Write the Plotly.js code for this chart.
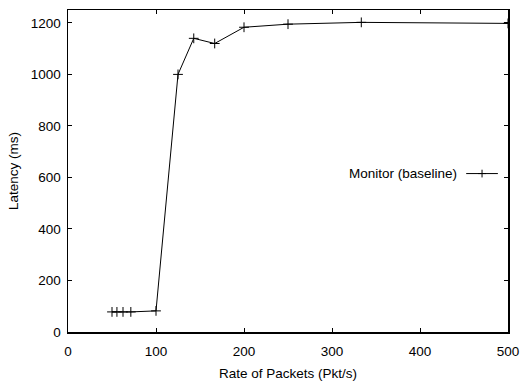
<!DOCTYPE html>
<html>
<head>
<meta charset="utf-8">
<script src="https://cdn.plot.ly/plotly-3.0.1.min.js"></script>
<style>html,body{margin:0;padding:0;background:#fff;}#chart{width:528px;height:381px;}</style>
</head>
<body>
<div id="chart"></div>
<script>
const seriesName = "Monitor (baseline)";
const rate = [50, 55.6, 62.5, 71.4, 100, 125, 142.9, 166.7, 200, 250, 333.3, 500];
const latency = [78, 78, 78, 78, 82, 1000, 1140, 1120, 1183, 1195, 1202, 1198];
const xTicks = [0, 100, 200, 300, 400, 500];
const yTicks = [0, 200, 400, 600, 800, 1000, 1200];

const font = {family: "Liberation Sans, Arial, sans-serif", size: 13.5, color: "#000"};

const trace = {
  x: rate, y: latency, type: "scatter", mode: "lines+markers", name: seriesName,
  line: {color: "#000", width: 1},
  marker: {symbol: "cross-thin-open", size: 7, color: "#000", line: {color: "#000", width: 1}},
  showlegend: false
};

const axisCommon = {
  showgrid: false, zeroline: false, showline: true, linecolor: "#000", linewidth: 1.5,
  mirror: "allticks", ticks: "inside", ticklen: 4, tickwidth: 1, tickcolor: "#000",
  tickfont: font
};

const layout = {
  width: 528, height: 381,
  margin: {l: 68, r: 20, t: 10, b: 49},
  paper_bgcolor: "#fff", plot_bgcolor: "#fff",
  font: font,
  xaxis: Object.assign({}, axisCommon, {
    range: [0, 500], tickvals: xTicks, ticktext: xTicks.map(String), ticklabelstandoff: 6,
    title: {text: "Rate of Packets (Pkt/s)", font: font, standoff: 13}
  }),
  yaxis: Object.assign({}, axisCommon, {
    range: [0, 1250], tickvals: yTicks, ticktext: yTicks.map(String), ticklabelstandoff: 3,
    title: {text: "Latency (ms)", font: font, standoff: 9}
  }),
  annotations: [{
    xref: "paper", yref: "paper", x: 0.889, y: 0.492, xanchor: "right", yanchor: "middle",
    text: seriesName, showarrow: false, font: font
  }],
  shapes: [
    {type: "line", xref: "paper", yref: "paper", x0: 0.905, x1: 0.977, y0: 0.492, y1: 0.492, line: {color: "#000", width: 1}},
    {type: "line", xref: "paper", yref: "paper", x0: 0.941, x1: 0.941, y0: 0.480, y1: 0.504, line: {color: "#000", width: 1}},
    {type: "line", xref: "paper", yref: "paper", x0: 0.932, x1: 0.950, y0: 0.492, y1: 0.492, line: {color: "#000", width: 1}}
  ]
};

Plotly.newPlot("chart", [trace], layout, {staticPlot: true, displayModeBar: false});
</script>
</body>
</html>
